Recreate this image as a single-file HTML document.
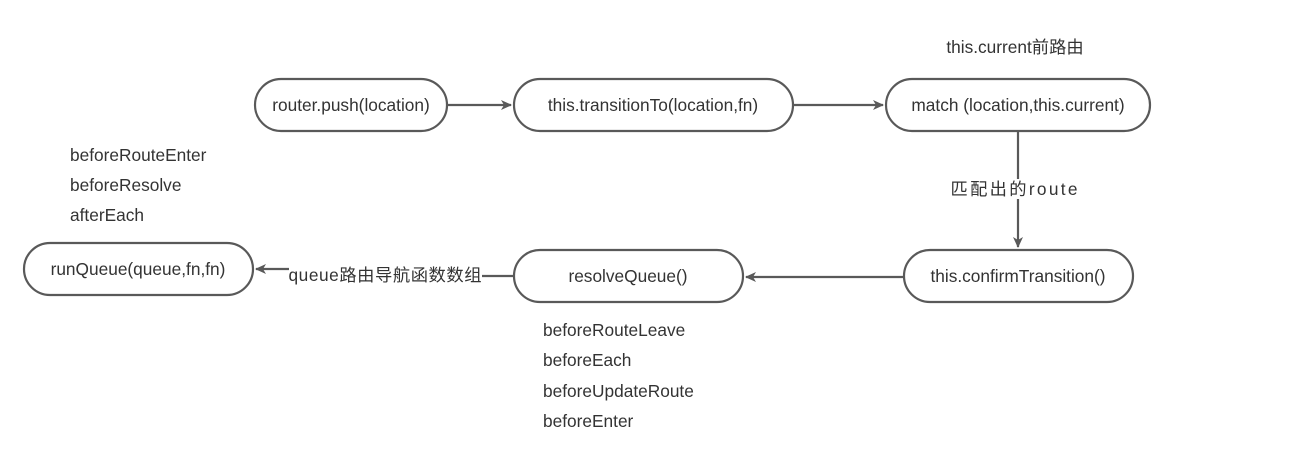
<!DOCTYPE html>
<html><head><meta charset="utf-8"><style>
body{margin:0;background:#fff;}
svg text{font-family:"Liberation Sans","Noto Sans CJK SC",sans-serif;font-size:17.3px;fill:#333;}
</style></head><body>
<svg width="1301" height="466" viewBox="0 0 1301 466" xmlns="http://www.w3.org/2000/svg">
<defs><marker id="a" markerWidth="12" markerHeight="12" refX="10" refY="6" orient="auto" markerUnits="userSpaceOnUse"><path d="M0,1 L11,6 L0,11 L3,6 Z" fill="#595959"/></marker></defs>
<g fill="none" stroke="#595959" stroke-width="2.2">
<rect x="255" y="79" width="192" height="52" rx="26"/>
<rect x="514" y="79" width="279" height="52" rx="26"/>
<rect x="886" y="79" width="264" height="52" rx="26"/>
<rect x="904" y="250" width="229" height="52" rx="26"/>
<rect x="514" y="250" width="229" height="52" rx="26"/>
<rect x="24" y="243" width="229" height="52" rx="26"/>
<line x1="447" y1="105" x2="511" y2="105" marker-end="url(#a)"/>
<line x1="793" y1="105" x2="883" y2="105" marker-end="url(#a)"/>
<line x1="1018" y1="131" x2="1018" y2="247" marker-end="url(#a)"/>
<line x1="904" y1="277" x2="746" y2="277" marker-end="url(#a)"/>
<polyline points="514,276 390,276 390,269 256,269" marker-end="url(#a)"/>
</g>
<rect x="289" y="264" width="193" height="22" fill="#fff"/>
<rect x="950" y="179" width="128" height="20" fill="#fff"/>
<g text-anchor="middle" dominant-baseline="central">
<text x="351" y="105">router.push(location)</text>
<text x="653" y="105">this.transitionTo(location,fn)</text>
<text x="1018" y="105">match (location,this.current)</text>
<text x="1018" y="276">this.confirmTransition()</text>
<text x="628" y="276">resolveQueue()</text>
<text x="138" y="269">runQueue(queue,fn,fn)</text>
<text x="1014" y="189" textLength="127">匹配出的route</text>
<text x="385" y="275" textLength="193">queue路由导航函数数组</text>
<text x="1015" y="47">this.current前路由</text>
</g>
<g dominant-baseline="central">
<text x="70" y="155">beforeRouteEnter</text>
<text x="70" y="185">beforeResolve</text>
<text x="70" y="215">afterEach</text>
<text x="543" y="330">beforeRouteLeave</text>
<text x="543" y="360">beforeEach</text>
<text x="543" y="391">beforeUpdateRoute</text>
<text x="543" y="421">beforeEnter</text>
</g>
</svg>
</body></html>
